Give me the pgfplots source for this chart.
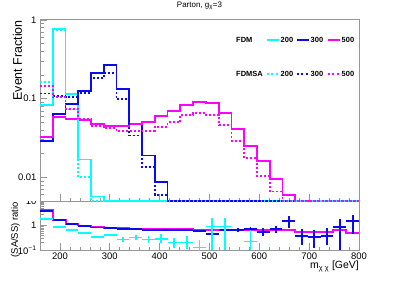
\documentclass[border=0pt]{standalone}
\usepackage{pgfplots}
\pgfplotsset{compat=1.18}
\usepackage{pgfplotstable}
\usepackage{fontspec}
\setmainfont{Liberation Sans}
\definecolor{ccyan}{RGB}{0,255,255}
\definecolor{cblue}{RGB}{10,10,240}
\definecolor{cmag}{RGB}{255,0,255}
\definecolor{axgray}{RGB}{150,150,150}

% bin left edges (25 bins 160-800), last row repeats last bin
\pgfplotstableread{
x cs cd bs bd ms md
160.0 0.084 0.161 0.029 0.116 0.0326 0.146
185.6 0.775 0.74 0.064 0.107 0.0585 0.104
211.2 0.115 0.073 0.086 0.104 0.055 0.074
236.8 0.0168 0.010 0.124 0.118 0.053 0.0557
262.4 0.0057 0.005 0.212 0.183 0.048 0.0445
288.0 0.005 0.005 0.265 0.212 0.0454 0.0425
313.6 0.005 0.005 0.134 0.099 0.0454 0.039
339.2 0.005 0.005 0.048 0.034 0.0476 0.0385
364.8 0.005 0.005 0.0189 0.0134 0.0506 0.039
390.4 0.005 0.005 0.0087 0.006 0.0596 0.0437
416.0 0.005 0.005 0.005 0.005 0.069 0.050
441.6 0.005 0.005 0.005 0.005 0.083 0.0626
467.2 0.005 0.005 0.005 0.005 0.0916 0.066
492.8 0.005 0.005 0.005 0.005 0.088 0.0626
518.4 0.005 0.005 0.005 0.005 0.0658 0.0458
544.0 0.005 0.005 0.005 0.005 0.0416 0.0288
569.6 0.005 0.005 0.005 0.005 0.0253 0.0177
595.2 0.005 0.005 0.005 0.005 0.016 0.0105
620.8 0.005 0.005 0.005 0.005 0.0095 0.0066
646.4 0.005 0.005 0.005 0.005 0.006 0.005
672.0 0.005 0.005 0.005 0.005 0.005 0.005
697.6 0.005 0.005 0.005 0.005 0.005 0.005
723.2 0.005 0.005 0.005 0.005 0.005 0.005
748.8 0.005 0.005 0.005 0.005 0.005 0.005
774.4 0.005 0.005 0.005 0.005 0.005 0.005
800.0 0.005 0.005 0.005 0.005 0.005 0.005
}\hist

\pgfplotstableread{
x y ep em
172.8 1.79 0 0
198.4 0.87 0 0
224.0 0.64 0 0
249.6 0.51 0.02 0.02
275.2 0.33 0.03 0.03
300.8 0.41 0.04 0.04
326.4 0.27 0.07 0.05
352.0 0.32 0.10 0.07
377.6 0.27 0.10 0.07
403.2 0.29 0.15 0.10
428.8 0.20 0.12 0.08
454.4 0.20 0.16 0.09
480.0 0.125 0.125 0.05
505.6 0.90 1.2 0.8
531.2 0.90 1.2 0.8
582.4 0.22 0.43 0.12
}\rcyan

\pgfplotstableread{
x y ep em
172.8 4.0 0 0
198.4 1.68 0 0
224.0 1.15 0 0
249.6 0.95 0 0
275.2 0.83 0 0
300.8 0.78 0 0
326.4 0.72 0 0
352.0 0.70 0 0
377.6 0.68 0 0
403.2 0.68 0.02 0.02
428.8 0.66 0.02 0.02
454.4 0.65 0.03 0.03
480.0 0.62 0.04 0.04
505.6 0.44 0.35 0.13
531.2 0.66 0.05 0.05
556.8 0.66 0.10 0.10
582.4 0.72 0.15 0.13
608.0 0.56 0.22 0.18
633.6 0.70 0.25 0.20
659.2 1.53 1.0 0.76
684.8 0.38 0.32 0.22
710.4 0.35 0.31 0.23
736.0 0.38 0.39 0.22
761.6 0.89 0.95 0.79
787.2 1.53 1.2 1.09
}\rblue

\pgfplotstableread{
x y
160.0 4.4
185.6 1.72
211.2 1.2
236.8 1.0
262.4 0.88
288.0 0.82
313.6 0.78
339.2 0.75
364.8 0.73
390.4 0.72
416.0 0.70
441.6 0.69
467.2 0.67
492.8 0.66
518.4 0.66
544.0 0.66
569.6 0.66
595.2 0.66
620.8 0.66
646.4 0.66
672.0 0.56
697.6 0.56
723.2 0.56
748.8 0.66
774.4 0.50
800.0 0.50
}\rmag

\pgfplotsset{
  common/.style={
    scale only axis, width=319bp,
    xmin=160, xmax=800,
    xtick={200,300,400,500,600,700,800},
    minor x tick num=4,
    tick align=inside, tick pos=left,
    major tick length=7bp, minor tick length=3.5bp,
    axis line style={axgray, line width=1pt},
    tick style={axgray, line width=0.6pt},
    ticklabel style={font=\fontsize{9.5}{10}\selectfont, text=black},
    /pgf/number format/assume math mode=true,
  },
  hs/.style={const plot, line width=1.8pt},
  hd/.style={const plot, line width=1.8pt, dash pattern=on 2pt off 2pt},
  eb/.style={only marks, mark=*, mark size=0pt, mark options={draw=none, fill=none},
    error bars/.cd, x dir=both, x fixed=12.8, y dir=both, y explicit,
    error mark=none},
}

\begin{document}
\begin{tikzpicture}
\path[use as bounding box, fill=white] (0,0) rectangle (399bp,288bp);

% ratio panel
\begin{axis}[common, at={(40bp,38bp)}, anchor=south west, height=49bp,
  ymode=log, ymin=0.1, ymax=10,
  ytick={0.1,1,10}, yticklabels={10\textsuperscript{−1},1,10},
  minor ytick={0.2,0.3,0.4,0.5,0.6,0.7,0.8,0.9,2,3,4,5,6,7,8,9},
  xticklabel style={yshift=1bp},
  clip=true]
\addplot[const plot, cmag, line width=2pt] table[x=x, y=y] {\rmag};
\addplot[cblue, eb, error bar style={cblue, line width=1.9pt}]
  table[x=x, y=y, y error plus=ep, y error minus=em] {\rblue};
\addplot[ccyan, eb, error bar style={ccyan, line width=1.7pt}]
  table[x=x, y=y, y error plus=ep, y error minus=em] {\rcyan};
\end{axis}

% upper pad covers everything above the ratio panel
\fill[white] (0,87bp) rectangle (399bp,288bp);

% main panel
\begin{axis}[common, at={(40bp,87bp)}, anchor=south west, height=181bp,
  ymode=log, ymin=0.005, ymax=1,
  xticklabels={},
  ytick={0.01,0.1,1}, yticklabels={0.01,0.1,1},
  minor ytick={0.006,0.007,0.008,0.009,0.02,0.03,0.04,0.05,0.06,0.07,0.08,0.09,0.2,0.3,0.4,0.5,0.6,0.7,0.8,0.9},
  axis background/.style={fill=white},
  clip=true]
\addplot[hs, ccyan] table[x=x, y=cs] {\hist};
\addplot[hs, cblue] table[x=x, y=bs] {\hist};
\addplot[hs, cmag] table[x=x, y=ms] {\hist};
\addplot[hd, ccyan] table[x=x, y=cd] {\hist};
\addplot[hd, cblue] table[x=x, y=bd] {\hist};
\addplot[hd, cmag] table[x=x, y=md] {\hist};
\end{axis}

% titles and labels
\node[font=\fontsize{8}{9}\selectfont] at (199.5bp,282bp) {Parton, g\textsubscript{χ}=3};
\node[rotate=90, anchor=east, font=\fontsize{12.5}{13}\selectfont, inner sep=0pt] at (17.5bp,268bp) {Event Fraction};
\node[rotate=90, anchor=east, font=\fontsize{9.5}{10}\selectfont, inner sep=0pt] at (15.5bp,86bp) {(SA/SS) ratio};
\node[anchor=base east, font=\fontsize{10.5}{11}\selectfont, inner sep=0pt] at (359bp,19.5bp) {m\textsubscript{χ χ} [GeV]};

% legend
\begin{scope}[font=\fontsize{7.5}{8}\selectfont\bfseries]
\node[anchor=west, inner sep=0pt] at (236bp,248bp) {FDM};
\draw[ccyan, line width=1.8pt] (267bp,248bp) -- (279bp,248bp);
\node[anchor=west, inner sep=0pt] at (280.5bp,248bp) {200};
\draw[cblue, line width=1.8pt] (297bp,248bp) -- (309bp,248bp);
\node[anchor=west, inner sep=0pt] at (310.5bp,248bp) {300};
\draw[cmag, line width=1.8pt] (328bp,248bp) -- (340bp,248bp);
\node[anchor=west, inner sep=0pt] at (341.5bp,248bp) {500};
\node[anchor=west, inner sep=0pt] at (236bp,214bp) {FDMSA};
\draw[ccyan, line width=1.8pt, dash pattern=on 2pt off 2.5pt] (267bp,214bp) -- (279bp,214bp);
\node[anchor=west, inner sep=0pt] at (280.5bp,214bp) {200};
\draw[cblue, line width=1.8pt, dash pattern=on 2pt off 2.5pt] (297bp,214bp) -- (309bp,214bp);
\node[anchor=west, inner sep=0pt] at (310.5bp,214bp) {300};
\draw[cmag, line width=1.8pt, dash pattern=on 2pt off 2.5pt] (328bp,214bp) -- (340bp,214bp);
\node[anchor=west, inner sep=0pt] at (341.5bp,214bp) {500};
\end{scope}
\end{tikzpicture}
\end{document}
